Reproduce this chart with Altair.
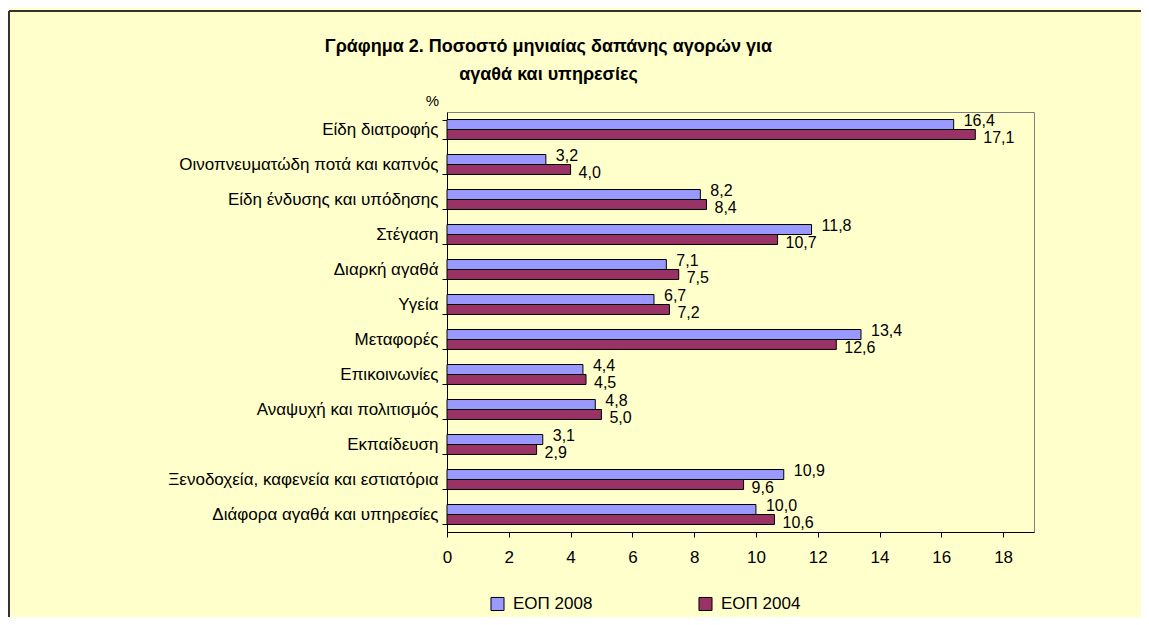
import altair as alt
import pandas as pd

categories = [
    "Είδη διατροφής",
    "Οινοπνευματώδη ποτά και καπνός",
    "Είδη ένδυσης και υπόδησης",
    "Στέγαση",
    "Διαρκή αγαθά",
    "Υγεία",
    "Μεταφορές",
    "Επικοινωνίες",
    "Αναψυχή και πολιτισμός",
    "Εκπαίδευση",
    "Ξενοδοχεία, καφενεία και εστιατόρια",
    "Διάφορα αγαθά και υπηρεσίες",
]
eop_2008 = [16.4, 3.2, 8.2, 11.8, 7.1, 6.7, 13.4, 4.4, 4.8, 3.1, 10.9, 10.0]
eop_2004 = [17.1, 4.0, 8.4, 10.7, 7.5, 7.2, 12.6, 4.5, 5.0, 2.9, 9.6, 10.6]
series = ["ΕΟΠ 2008", "ΕΟΠ 2004"]
x_ticks = [0, 2, 4, 6, 8, 10, 12, 14, 16, 18]
title_lines = ["Γράφημα 2. Ποσοστό μηνιαίας δαπάνης αγορών για", "αγαθά και υπηρεσίες"]

rows = []
for c, a, b in zip(categories, eop_2008, eop_2004):
    rows.append({"cat": c, "series": series[0], "value": a})
    rows.append({"cat": c, "series": series[1], "value": b})
df = pd.DataFrame(rows)
df["label"] = df["value"].map(lambda v: f"{v:.1f}".replace(".", ","))

FONT = "Liberation Sans"
FS = 17
LFS = 16
W, H = 587, 420

y_enc = alt.Y("cat:N", sort=categories,
              scale=alt.Scale(paddingInner=0.43, paddingOuter=0.215),
              axis=alt.Axis(title="%", titleAngle=0, titleX=-15, titleY=-12,
                            titleAlign="center", titleBaseline="middle",
                            titleFont=FONT, titleFontSize=15, titleFontWeight="normal",
                            titleColor="#000000",
                            labelFont=FONT, labelFontSize=FS, labelColor="#000000",
                            labelPadding=4, tickSize=5, tickBand="extent",
                            tickColor="#000000", domainColor="#000000",
                            labelLimit=500))
yoff = alt.YOffset("series:N", sort=series)
x_enc = alt.X("value:Q", scale=alt.Scale(domain=[0, 19], nice=False),
              axis=alt.Axis(values=x_ticks, title=None, grid=False,
                            labelFont=FONT, labelFontSize=FS, labelColor="#000000",
                            labelPadding=12, tickSize=5, tickColor="#000000",
                            domainColor="#000000", labelFlush=False))

base = alt.Chart(df)

bars = base.mark_bar(stroke="#000000", strokeWidth=1).encode(
    x=x_enc,
    y=y_enc,
    yOffset=yoff,
    color=alt.Color("series:N", sort=series,
                    scale=alt.Scale(domain=series, range=["#9999FF", "#993366"]),
                    legend=alt.Legend(title=None, orient="none", direction="horizontal",
                                      legendX=42, legendY=483,
                                      symbolType="square", symbolSize=170,
                                      symbolStrokeColor="#000000", symbolStrokeWidth=1,
                                      labelFont=FONT, labelFontSize=FS, labelColor="#000000",
                                      labelOffset=7, columnPadding=103)),
)

lab_2008 = base.transform_filter(alt.datum.series == series[0]).mark_text(
    align="left", baseline="middle", dx=10, dy=-4, font=FONT, fontSize=LFS, color="#000000"
).encode(x="value:Q", y=alt.Y("cat:N", sort=categories), yOffset=yoff, text="label:N")

lab_2004 = base.transform_filter(alt.datum.series == series[1]).mark_text(
    align="left", baseline="middle", dx=8, dy=4, font=FONT, fontSize=LFS, color="#000000"
).encode(x="value:Q", y=alt.Y("cat:N", sort=categories), yOffset=yoff, text="label:N")

frame_left = alt.Chart(pd.DataFrame({"k": [0]})).mark_rule(
    color="#333333", strokeWidth=2, clip=False
).encode(x=alt.value(-438), y=alt.value(-101), y2=alt.value(H + 90))
frame_top = alt.Chart(pd.DataFrame({"k": [0]})).mark_rule(
    color="#333333", strokeWidth=2, clip=False
).encode(x=alt.value(-438), x2=alt.value(W + 110), y=alt.value(-101))

chart = alt.layer(bars, lab_2008, lab_2004, frame_left, frame_top).properties(
    width=W, height=H,
    autosize=alt.AutoSizeParams(type="none"),
    padding={"left": 439, "top": 104, "right": 107, "bottom": 85},
    background="#FFFFCC",
    title=alt.TitleParams(text=title_lines, font=FONT, fontSize=18, fontWeight="bold",
                          color="#000000", anchor="middle", frame="group",
                          dx=-192, offset=-74, lineHeight=28),
).configure_view(stroke="#808080", strokeWidth=1)

chart.save("out.html", embed_options={"renderer": "svg", "actions": False})
